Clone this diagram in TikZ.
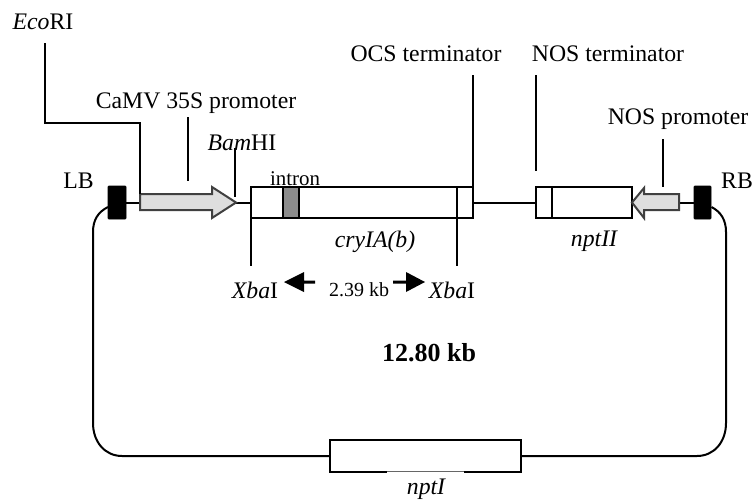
\documentclass[tikz,border=0pt]{standalone}
\usepackage{fontspec}
\setmainfont{Liberation Serif}
\tikzset{
  x=0.75pt,y=-0.75pt,
  lbl/.style={anchor=base,inner sep=0pt,font=\fontsize{17.8}{20}\selectfont},
  ln/.style={line width=1.5pt,black},
  gene/.style={draw=black,fill=white,line width=1.5pt,inner sep=0pt,outer sep=0pt,minimum height=23.25pt},
  border/.style={draw=black,fill=black,inner sep=0pt,outer sep=0pt,minimum height=24.75pt,rounded corners=0.5pt},
  promo/.style={draw=black!75,fill=black!13,line width=1.5pt,line join=miter},
  fat/.style={fill=black,draw=none}
}
\begin{document}
\begin{tikzpicture}
\useasboundingbox (0,0) rectangle (752,500);
% anchors on the backbone
\coordinate (ptail) at (140,202.5);
\coordinate (ptip) at (236,202.5);
\coordinate (ntip) at (632,202.5);
\coordinate (ntail) at (679,202.5);
% blocks
\node[border,minimum width=13.5pt] (lb) at (117,202.5) {};
\node[border,minimum width=12.75pt] (rb) at (702.5,202.5) {};
\node[gene,minimum width=166.5pt] (cry) at (362,202.5) {};
\node[gene,minimum width=72pt] (npt2) at (584,202.5) {};
\node[gene,minimum width=143.25pt,minimum height=24pt] (npt1) at (425.5,456) {};
% gap in the lower edge of the nptI box
\draw[white,line width=1.8pt] (387,472) -- (464,472);
\draw[black!60,line width=0.4pt] (387,471.6) -- (464,471.6);
% backbone
\draw[ln] (lb.east) -- (ptail);
\draw[ln] (ptip) -- (cry.west);
\draw[ln] (cry.east) -- (npt2.west);
\draw[ln] (ntail) -- (rb.west);
% loop
\coordinate (lbc) at (108,207);
\coordinate (rbc) at (711.5,207);
\draw[ln] (lbc) .. controls (98,212) and (93,220) .. (93,232) -- (93,423)
  .. controls (93,442) and (105,456) .. (122,456) -- (npt1.west);
\draw[ln] (rbc) .. controls (721,212) and (726,220) .. (726,232) -- (726,423)
  .. controls (726,442) and (714,456) .. (697,456) -- (npt1.east);
% inner parts of the genes
\node[draw=black,fill=black!45,line width=1.5pt,inner sep=0pt,outer sep=0pt,minimum width=12pt,minimum height=23.25pt] (intronbox) at (291,202.5) {};
\coordinate (cryt) at (457,187);
\coordinate (cryb) at (457,218);
\draw[line width=1pt] (cryt) -- (cryb);
\coordinate (nptt) at (552,187);
\coordinate (nptb) at (552,218);
\draw[line width=1pt] (nptt) -- (nptb);
% promoter arrows
\draw[promo] (ptail) -- (140,194) -- (212,194) -- (212,187) -- (ptip) -- (212,218) -- (212,210) -- (140,210) -- cycle;
\draw[promo] (ntail) -- (679,194) -- (644,194) -- (644,188) -- (ntip) -- (644,218) -- (644,210) -- (679,210) -- cycle;
% labels
\node[lbl] (eco) at (43,29) {\textit{Eco}RI};
\node[lbl] (camv) at (196,108) {CaMV 35S promoter};
\node[lbl] (bam) at (242,150) {\textit{Bam}HI};
\node[lbl] (ocs) at (426,61) {OCS terminator};
\node[lbl] (nost) at (608,61) {NOS terminator};
\node[lbl] (nosp) at (678,124) {NOS promoter};
\node[lbl] (lbt) at (78.5,188) {LB};
\node[lbl] (rbt) at (737,188) {RB};
\node[lbl,font=\fontsize{15.7}{18}\selectfont] (intron) at (295,185) {intron};
\node[lbl,font=\fontsize{17.8}{20}\selectfont\itshape] (cryt2) at (375,247) {cryIA(b)};
\node[lbl,font=\fontsize{17.8}{20}\selectfont\itshape] (nptt2) at (594,246) {nptII};
\node[lbl] (xl) at (255,298) {\textit{Xba}I};
\node[lbl] (xr) at (452,298) {\textit{Xba}I};
\node[lbl,font=\fontsize{15}{17}\selectfont] (size) at (359,296) {2.39 kb};
\node[lbl,font=\fontsize{19.5}{22}\selectfont\bfseries] (total) at (429,361) {12.80 kb};
\node[lbl,font=\fontsize{17.8}{20}\selectfont\itshape] (nptt1) at (426,494) {nptI};
% leader lines
\coordinate (e1) at (45,43); \coordinate (e2) at (45,123);
\coordinate (e3) at (140,123); \coordinate (e4) at (140,194);
\draw[ln,line join=miter] (e1) -- (e2) -- (e3) -- (e4);
\coordinate (c1) at (188,117); \coordinate (c2) at (188,181);
\draw[ln] (c1) -- (c2);
\coordinate (b1) at (235,148); \coordinate (b2) at (235,197);
\draw[line width=1pt] (b1) -- (b2);
\coordinate (o1) at (473,75);
\draw[ln] (o1) -- (cry.north east);
\coordinate (t1) at (536,75); \coordinate (t2) at (536,171);
\draw[ln] (t1) -- (t2);
\coordinate (p1) at (663,139); \coordinate (p2) at (663,187);
\draw[ln] (p1) -- (p2);
\coordinate (x1) at (251,266);
\draw[line width=1pt] (cry.south west) -- (x1);
\coordinate (x2) at (457,266);
\draw[line width=1pt] (cryb) -- (x2);
% size arrows
\coordinate (al) at (315,282); \coordinate (ar) at (393,282);
\fill[fat] (284,282) -- (304,272) -- (304,280.5) -- (315,280.5) -- (al) -- (315,283.5) -- (304,283.5) -- (304,292) -- cycle;
\fill[fat] (425,282) -- (406,272) -- (406,280.5) -- (393,280.5) -- (ar) -- (393,283.5) -- (406,283.5) -- (406,292) -- cycle;
\end{tikzpicture}
\end{document}
